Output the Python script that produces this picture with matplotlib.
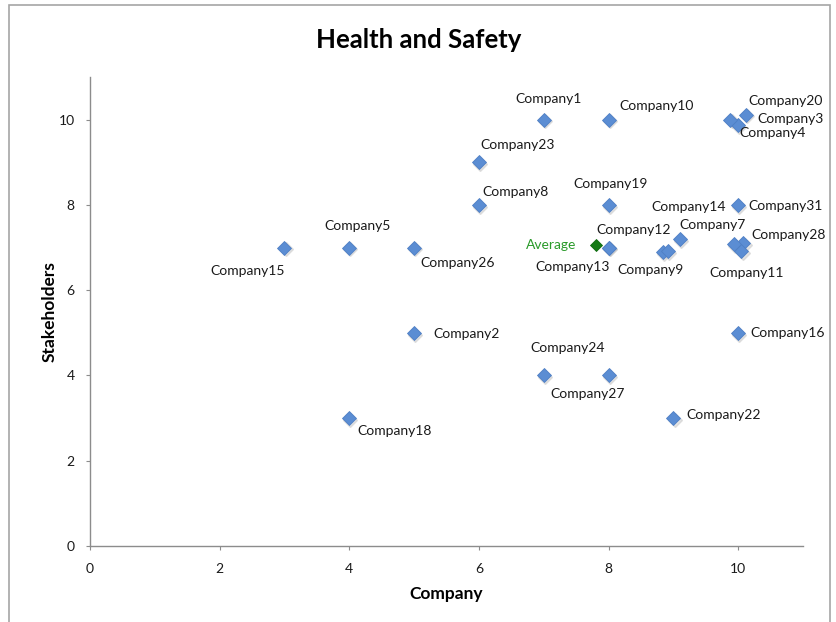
import matplotlib
matplotlib.use("Agg")
import matplotlib.pyplot as plt
from matplotlib.patches import Rectangle
from matplotlib.transforms import ScaledTranslation

plt.rcParams['font.family'] = ['Lato', 'DejaVu Sans']

# Company scores: x = Company, y = Stakeholders
companies = ["Company1", "Company10", "Company20", "Company3", "Company4",
             "Company23", "Company8", "Company19", "Company31", "Company5",
             "Company15", "Company26", "Company12", "Company13", "Company9",
             "Company14", "Company7", "Company28", "Company11", "Company2",
             "Company16", "Company24", "Company27", "Company22", "Company18"]
company_score = [7, 8, 10.12, 10.0, 9.88,
                 6, 6, 8, 10, 4,
                 3, 5, 8, 8, 8.84,
                 8.92, 9.1, 10.08, 10.05, 5,
                 10, 7, 8, 9, 4]
stakeholder_score = [10, 10, 10.12, 9.88, 10.0,
                     9, 8, 8, 8, 7,
                     7, 7, 7, 7, 6.9,
                     6.92, 7.2, 7.1, 6.92, 5,
                     5, 4, 4, 3, 3]
# extra marker hidden in the Company28/Company11 group
extra_x = [9.94]
extra_y = [7.08]

average_x = [7.8]
average_y = [7.07]

# label offsets in pixels (dx, dy) relative to each marker
label_offsets = [(5, 21), (48, 14), (40, 14), (52, 6), (42, -13),
                 (39, 17), (37, 13), (2, 21), (47, -1), (8, 22),
                 (-37, -23), (44, -15), (25, 18), (-36, -19), (-12, -18),
                 (20, 44), (33, 14), (45, 8), (5, -22), (52, -1),
                 (49, 0), (24, 27), (-21, -19), (50, 3), (45, -13)]

x_ticks = [0, 2, 4, 6, 8, 10]
y_ticks = [0, 2, 4, 6, 8, 10]

fig = plt.figure(figsize=(8.37, 6.22), dpi=100)
ax = fig.add_axes([90 / 837, 1 - 546 / 622, (803 - 90) / 837, (546 - 77) / 622])

# outer chart frame
fig.patches.append(Rectangle((9 / 837, -0.02), (830 - 9) / 837, 1 - 5 / 622 + 0.02,
                             transform=fig.transFigure, fill=False,
                             edgecolor='#a6a6a6', linewidth=1.2, zorder=0))

blue = '#5b8dd3'
all_x = company_score + extra_x
all_y = stakeholder_score + extra_y

# soft shadow under markers
shadow = ax.transData + ScaledTranslation(1.2 / 100, -1.8 / 100, fig.dpi_scale_trans)
ax.plot(all_x, all_y, linestyle='none', marker='D', markersize=7.6,
        color='#c4c4c4', alpha=0.45, zorder=2, transform=shadow)
ax.plot(all_x, all_y, linestyle='none', marker='D', markersize=7.2,
        markerfacecolor=blue, markeredgecolor='#4f7fc4', markeredgewidth=0.6, zorder=3)
ax.plot(average_x, average_y, linestyle='none', marker='D', markersize=6.2,
        markerfacecolor='#157a15', markeredgecolor='#0f6a0f', markeredgewidth=0.6, zorder=4)

for name, x, y, (dx, dy) in zip(companies, company_score, stakeholder_score, label_offsets):
    ax.annotate(name, (x, y), xytext=(dx, dy), textcoords='offset pixels',
                ha='center', va='center', fontsize=10, color='#1a1a1a', zorder=5)
ax.annotate("Average", (average_x[0], average_y[0]), xytext=(-44, 0),
            textcoords='offset pixels', ha='center', va='center',
            fontsize=10, color='#2a9a2a', zorder=5)

ax.set_xlim(0, 11)
ax.set_ylim(0, 11)
ax.set_xticks(x_ticks)
ax.set_yticks(y_ticks)
ax.set_xticklabels([str(t) for t in x_ticks])
ax.set_yticklabels([str(t) for t in y_ticks])
for side in ('top', 'right'):
    ax.spines[side].set_visible(False)
for side in ('left', 'bottom'):
    ax.spines[side].set_color('#8c8c8c')
    ax.spines[side].set_linewidth(1.0)
ax.tick_params(axis='both', direction='out', length=3, width=0.8, color='#8c8c8c',
               labelsize=10, labelcolor='#1a1a1a')
ax.tick_params(axis='x', pad=9)
ax.tick_params(axis='y', pad=8)

ax.set_xlabel("Company", fontsize=12.5, fontweight='bold', labelpad=8)
ax.set_ylabel("Stakeholders", fontsize=12.5, fontweight='bold', labelpad=1)
fig.text(0.5, 1 - 40 / 622, "Health and Safety", ha='center', va='center',
         fontsize=18.5, fontweight='bold', color='#000000')

fig.savefig("out.png", dpi=100)
